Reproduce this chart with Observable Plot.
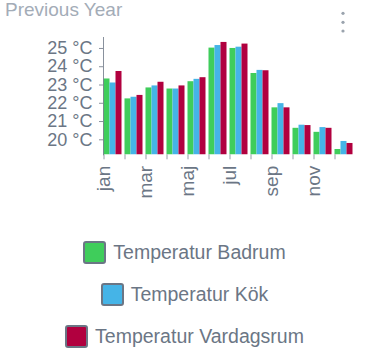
<!DOCTYPE html>
<html>
<head>
<meta charset="utf-8">
<script src="https://cdn.jsdelivr.net/npm/d3@7"></script>
<script src="https://cdn.jsdelivr.net/npm/@observablehq/plot@0.6"></script>
<style>
  html, body { margin: 0; padding: 0; background: #fff; }
  #wrap { position: relative; width: 369px; height: 359px; overflow: hidden; font-family: "Liberation Sans", Arial, sans-serif; }
  #title { position: absolute; left: 5px; top: -1px; font-size: 19px; line-height: 22px; color: #a3acb7; }
  #kebab { position: absolute; left: 337px; top: 8px; }
  #chart { position: absolute; left: 0; top: 0; }
  .row { position: absolute; left: 0; width: 369px; display: flex; justify-content: center; align-items: center; height: 24px; }
  .sw { width: 19px; height: 19px; border: 2px solid #6b7685; border-radius: 3px; margin-right: 7px; box-sizing: content-box; }
  .lab { font-size: 19.5px; color: #6b7685; line-height: 24px; }
</style>
</head>
<body>
<div id="wrap">
  <div id="title">Previous Year</div>
  <svg id="kebab" width="12" height="28"><circle cx="6" cy="5.3" r="1.6" fill="#9aa3ad"/><circle cx="6" cy="14.3" r="1.6" fill="#9aa3ad"/><circle cx="6" cy="23" r="1.6" fill="#9aa3ad"/></svg>
  <div id="chart"></div>
  <div id="legend"></div>
</div>
<script>
const months = ["jan","feb","mar","apr","maj","jun","jul","aug","sep","okt","nov","dec"];
const series = ["Temperatur Badrum","Temperatur Kök","Temperatur Vardagsrum"];
const colors = ["#3fcd5b","#45b4e7","#b1003f"];
const badrum     = [23.33, 22.24, 22.84, 22.78, 23.18, 25.02, 25.00, 23.63, 21.75, 20.63, 20.41, 19.47];
const kok        = [23.11, 22.33, 22.95, 22.78, 23.31, 25.16, 25.07, 23.80, 21.98, 20.80, 20.67, 19.91];
const vardagsrum = [23.74, 22.43, 23.15, 22.95, 23.40, 25.33, 25.24, 23.78, 21.75, 20.78, 20.63, 19.80];
const yTicks = [20, 21, 22, 23, 24, 25];
const yDomain = [19.18, 25.6];

const values = [badrum, kok, vardagsrum];
const data = [];
months.forEach((m, i) => series.forEach((s, j) => data.push({month: m, series: s, value: values[j][i]})));

const axisColor = "#6b7685";
const chart = Plot.plot({
  width: 369,
  height: 225,
  marginTop: 37,
  marginBottom: 70.7,
  marginLeft: 101.5,
  marginRight: 15,
  style: {fontFamily: "'Liberation Sans', Arial, sans-serif", fontSize: "18px", color: axisColor, background: "transparent", overflow: "visible"},
  y: {domain: yDomain},
  fx: {domain: months, paddingInner: 0.08, paddingOuter: 0.04},
  x: {domain: series, padding: 0.05, axis: null},
  color: {domain: series, range: colors},
  marks: [
    Plot.barY(data, {fx: "month", x: "series", y: "value", fill: "series", clip: true}),
    Plot.frame({anchor: "left", facetAnchor: "left", stroke: axisColor, strokeOpacity: 0.8}),
    Plot.axisY({ticks: yTicks, tickFormat: d => `${d} °C`, tickSize: 4, tickPadding: 7, label: null, fontSize: 18, stroke: axisColor, strokeOpacity: 0.8}),
    Plot.axisFx({anchor: "bottom", tickRotate: -90, tickFormat: d => months.indexOf(d) % 2 === 0 ? d : "", tickSize: 5, tickPadding: 6, label: null, fontSize: 19, dx: -9, strokeOpacity: 0.7})
  ]
});
document.getElementById("chart").appendChild(chart);

const legend = document.getElementById("legend");
const rowCenters = [252, 294, 336];
series.forEach((s, i) => {
  const row = document.createElement("div");
  row.className = "row";
  row.style.top = (rowCenters[i] - 12) + "px";
  const sw = document.createElement("div");
  sw.className = "sw";
  sw.style.background = colors[i];
  const lab = document.createElement("span");
  lab.className = "lab";
  lab.textContent = s;
  row.appendChild(sw);
  row.appendChild(lab);
  legend.appendChild(row);
});
</script>
</body>
</html>
